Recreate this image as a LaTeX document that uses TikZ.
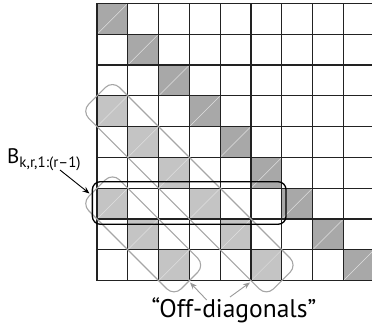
\documentclass[tikz,border=0pt]{standalone}
\usepackage{fontspec}
\setmainfont{PT Sans}
\usetikzlibrary{arrows.meta}
\definecolor{darkcell}{HTML}{A8A8A8}
\definecolor{lightcell}{HTML}{C4C4C4}
\definecolor{bandgray}{HTML}{A6A6A6}
\definecolor{gridc}{HTML}{222222}
\definecolor{arrowgray}{HTML}{999999}
\begin{document}
\begin{tikzpicture}[x=1pt,y=-1pt,
  gridline/.style={draw=gridc,line width=1.1pt},
  darkc/.style={fill=darkcell},
  lightc/.style={fill=lightcell},
  seam/.style={draw=white!45!lightcell,line width=0.5pt},
  band/.style={draw=bandgray,line width=1.1pt,rounded corners=10pt},
  rowbox/.style={draw=black,line width=1.3pt,rounded corners=8pt,inner sep=0pt},
  callout/.style={-{Stealth[length=7pt,width=5.5pt]},draw=black,line width=0.9pt},
  grayarrow/.style={-{Stealth[length=7pt,width=5.5pt]},draw=arrowgray,line width=0.9pt},
  lbl/.style={inner sep=0pt}
]
\useasboundingbox (0,0) rectangle (372,326);
\clip (0,0) rectangle (372,326);
% shaded cells
\foreach \r/\c in {0/0,1/1,2/2,3/3,4/4,5/5,6/6,7/7,8/8}{
  \fill[darkc] ({97+\c*30.8},{3.4+\r*30.8}) rectangle ++(30.8,30.8);
  \draw[seam] ({97+\c*30.8},{3.4+(\r+1)*30.8}) -- ++(30.8,-30.8);
}
\foreach \r/\c in {3/0,4/1,5/2,6/0,6/3,7/1,7/4,8/2,8/5}{
  \fill[lightc] ({97+\c*30.8},{3.4+\r*30.8}) rectangle ++(30.8,30.8);
  \draw[seam] ({97+\c*30.8},{3.4+(\r+1)*30.8}) -- ++(30.8,-30.8);
}
% grid
\foreach \i in {0,...,9}{
  \draw[gridline] ({97+\i*30.8},3.4) -- ({97+\i*30.8},{3.4+9*30.8});
  \draw[gridline] (97,{3.4+\i*30.8}) -- ({97+9*30.8},{3.4+\i*30.8});
}
% diagonal bands
\draw[band] (97,95.8) -- (112.4,80.4) -- (297.2,265.2) -- (266.4,296) -- (81.6,111.2) -- cycle;
\draw[band] (97,188.2) -- (112.4,172.8) -- (204.8,265.2) -- (174,296) -- (81.6,203.6) -- cycle;
% row box
\node[rowbox,minimum width=193.7pt,minimum height=42.6pt] (rowsel) at (189.2,203) {};
% labels
\node[lbl,anchor=base west] (blabel) at (7,164)
  {\fontsize{21}{21}\selectfont B\fontsize{15}{15}\selectfont\raisebox{-4pt}{k,r,1:(r–1)}};
\node[lbl,anchor=base] (offlabel) at (234,317)
  {\fontsize{25.5}{25.5}\selectfont “Off-diagonals”};
% arrows
\coordinate (btail) at (60,170);
\coordinate (btip) at (89.5,193.5);
\draw[callout] (btail) -- (btip);
\coordinate (o1tail) at (206.7,300);
\coordinate (o1tip) at (190,282.5);
\coordinate (o2tail) at (230,297);
\coordinate (o2tip) at (250,282.5);
\draw[grayarrow] (o1tail) -- (o1tip);
\draw[grayarrow] (o2tail) -- (o2tip);
\end{tikzpicture}
\end{document}
